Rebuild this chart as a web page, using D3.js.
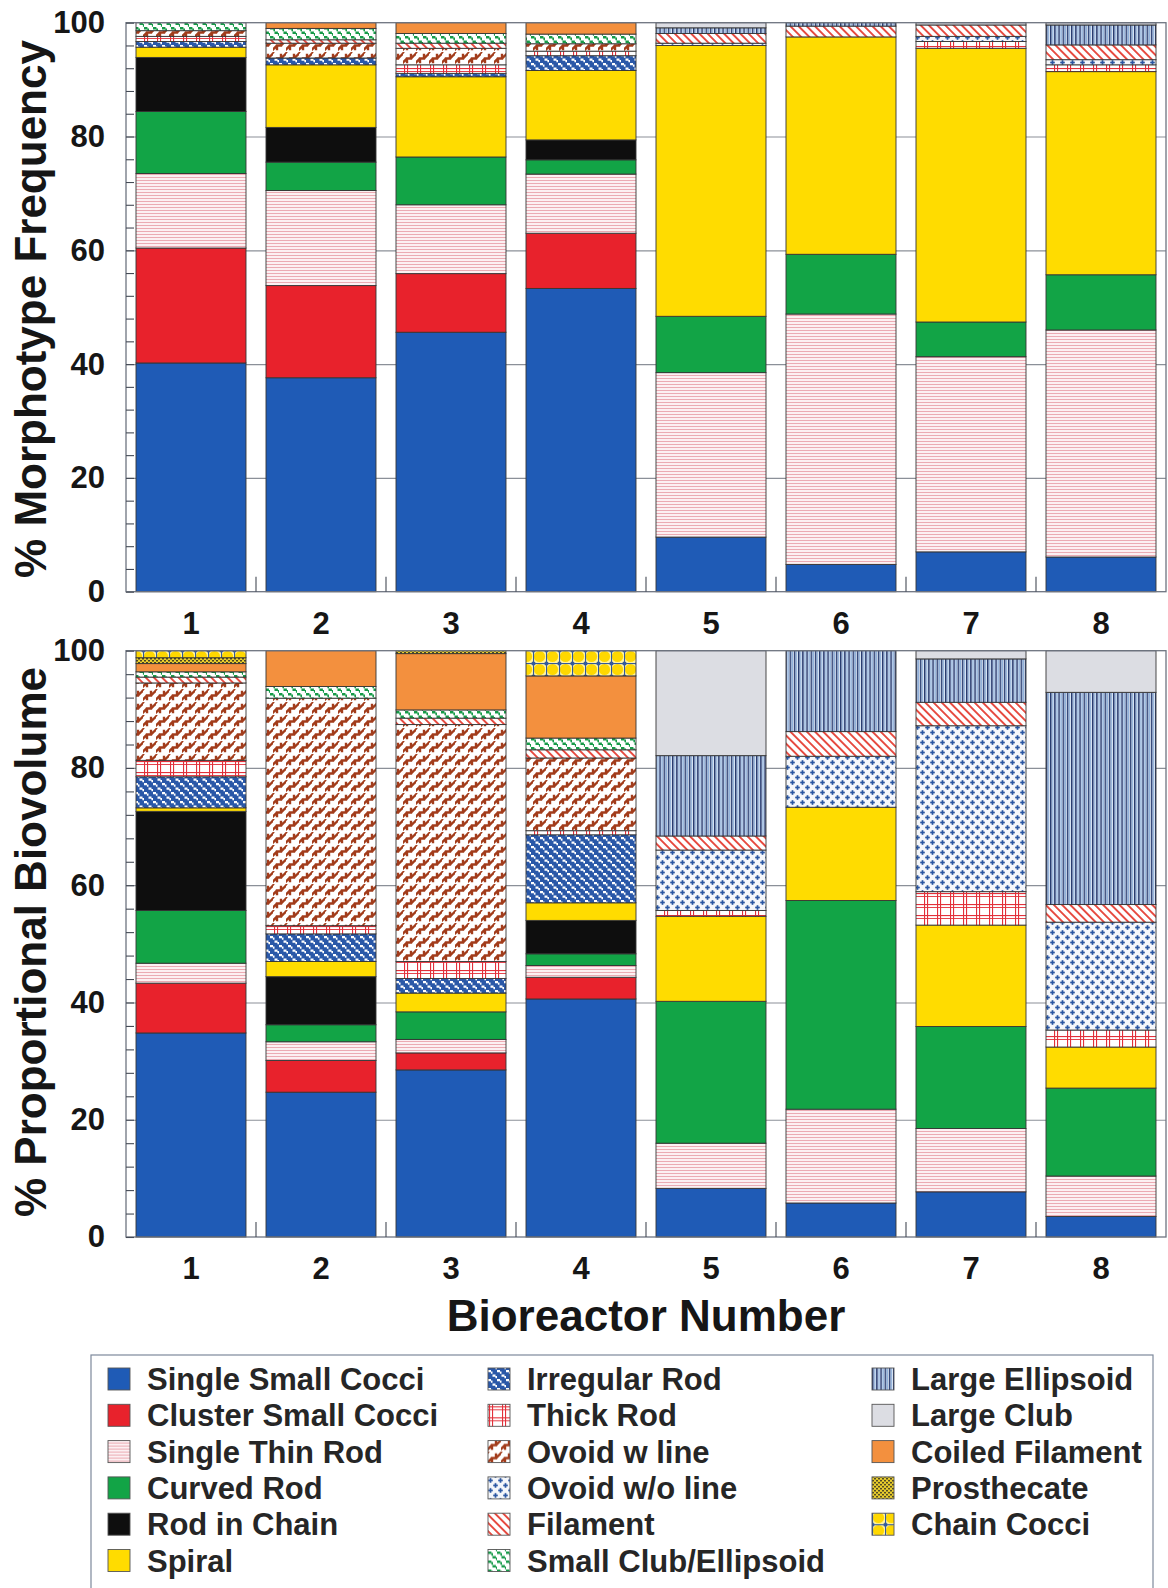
<!DOCTYPE html>
<html>
<head>
<meta charset="utf-8">
<script src="https://cdn.jsdelivr.net/npm/d3@7"></script>
<style>
  html, body { margin: 0; padding: 0; background: #ffffff; }
  svg { display: block; font-family: "Liberation Sans", Arial, Helvetica, sans-serif; font-weight: bold; }
</style>
</head>
<body>
<svg id="chart" width="1168" height="1588"></svg>
<script>
// ---------- categories ----------
const reactors = ["1", "2", "3", "4", "5", "6", "7", "8"];
const morphotypes = [
  "Single Small Cocci", "Cluster Small Cocci", "Single Thin Rod", "Curved Rod",
  "Rod in Chain", "Spiral", "Irregular Rod", "Thick Rod", "Ovoid w line",
  "Ovoid w/o line", "Filament", "Small Club/Ellipsoid", "Large Ellipsoid",
  "Large Club", "Coiled Filament", "Prosthecate", "Chain Cocci"
];
const yTickLabels = [0, 20, 40, 60, 80, 100];

// ---------- % morphotype frequency, bioreactors 1-8 ----------
const freqSingleSmallCocci   = [40.2, 37.6, 45.6, 53.3, 9.6, 4.8, 7.0, 6.1];
const freqClusterSmallCocci  = [20.2, 16.2, 10.3, 9.7, 0, 0, 0, 0];
const freqSingleThinRod      = [13.1, 16.7, 12.1, 10.4, 28.9, 44.0, 34.3, 39.9];
const freqCurvedRod          = [10.9, 5.0, 8.4, 2.5, 9.9, 10.5, 6.1, 9.7];
const freqRodInChain         = [9.5, 6.1, 0, 3.5, 0, 0, 0, 0];
const freqSpiral             = [1.8, 11.0, 14.1, 12.2, 47.6, 38.2, 48.1, 35.7];
const freqIrregularRod       = [1.0, 1.2, 0.6, 2.6, 0, 0, 0, 0];
const freqThickRod           = [0.9, 0, 1.5, 0.8, 0, 0, 1.2, 1.2];
const freqOvoidWLine         = [1.0, 2.6, 2.9, 1.3, 0, 0, 0, 0];
const freqOvoidWoLine        = [0, 0, 0, 0, 0.4, 0, 0.9, 0.9];
const freqFilament           = [0, 0.6, 0.9, 0, 1.7, 1.9, 2.0, 2.6];
const freqSmallClub          = [1.4, 2.0, 1.7, 1.7, 0, 0, 0, 0];
const freqLargeEllipsoid     = [0, 0, 0, 0, 1.0, 0.6, 0, 3.5];
const freqLargeClub          = [0, 0, 0, 0, 0.9, 0, 0.4, 0.4];
const freqCoiledFilament     = [0, 1.0, 1.9, 2.0, 0, 0, 0, 0];
const freqProsthecate        = [0, 0, 0, 0, 0, 0, 0, 0];
const freqChainCocci         = [0, 0, 0, 0, 0, 0, 0, 0];

// ---------- % proportional biovolume, bioreactors 1-8 ----------
const bvSingleSmallCocci   = [34.8, 24.7, 28.5, 40.6, 8.3, 5.8, 7.7, 3.5];
const bvClusterSmallCocci  = [8.5, 5.4, 2.9, 3.7, 0, 0, 0, 0];
const bvSingleThinRod      = [3.4, 3.2, 2.3, 2.0, 7.7, 16.0, 10.8, 6.9];
const bvCurvedRod          = [9.0, 2.9, 4.7, 2.0, 24.2, 35.6, 17.4, 15.0];
const bvRodInChain         = [16.9, 8.2, 0, 5.7, 0, 0, 0, 0];
const bvSpiral             = [0.6, 2.6, 3.2, 3.0, 14.5, 15.9, 17.3, 7.0];
const bvIrregularRod       = [5.3, 4.7, 2.5, 11.6, 0, 0, 0, 0];
const bvThickRod           = [2.8, 1.4, 2.9, 0.7, 1.0, 0, 5.7, 2.9];
const bvOvoidWLine         = [13.2, 38.8, 40.4, 12.4, 0, 0, 0, 0];
const bvOvoidWoLine        = [0, 0, 0, 0, 10.3, 8.7, 28.3, 18.4];
const bvFilament           = [1.0, 0, 1.1, 1.4, 2.4, 4.2, 4.0, 3.0];
const bvSmallClub          = [0.9, 2.0, 1.4, 2.0, 0, 0, 0, 0];
const bvLargeEllipsoid     = [0, 0, 0, 0, 13.7, 13.8, 7.4, 36.2];
const bvLargeClub          = [0, 0, 0, 0, 17.9, 0, 1.4, 7.1];
const bvCoiledFilament     = [1.4, 6.1, 9.6, 10.6, 0, 0, 0, 0];
const bvProsthecate        = [1.0, 0, 0.5, 0, 0, 0, 0, 0];
const bvChainCocci         = [1.2, 0, 0, 4.3, 0, 0, 0, 0];

const freqSeries = [freqSingleSmallCocci, freqClusterSmallCocci, freqSingleThinRod, freqCurvedRod,
  freqRodInChain, freqSpiral, freqIrregularRod, freqThickRod, freqOvoidWLine, freqOvoidWoLine,
  freqFilament, freqSmallClub, freqLargeEllipsoid, freqLargeClub, freqCoiledFilament,
  freqProsthecate, freqChainCocci];
const bvSeries = [bvSingleSmallCocci, bvClusterSmallCocci, bvSingleThinRod, bvCurvedRod,
  bvRodInChain, bvSpiral, bvIrregularRod, bvThickRod, bvOvoidWLine, bvOvoidWoLine,
  bvFilament, bvSmallClub, bvLargeEllipsoid, bvLargeClub, bvCoiledFilament,
  bvProsthecate, bvChainCocci];

// ---------- drawing ----------
const svg = d3.select("#chart");
const defs = svg.append("defs");

function makePattern(id, w, h, bg, draw, transform) {
  const p = defs.append("pattern")
    .attr("id", id).attr("patternUnits", "userSpaceOnUse")
    .attr("width", w).attr("height", h);
  if (transform) p.attr("patternTransform", transform);
  p.append("rect").attr("width", w).attr("height", h).attr("fill", bg);
  draw(p);
}

// fine pink horizontal hatching
makePattern("pThinRod", 6, 3, "#fcf0f2", p => {
  p.append("rect").attr("y", 0).attr("width", 6).attr("height", 0.9).attr("fill", "#e9a3ac");
});
// blue tooth pattern
makePattern("pIrregular", 9, 9, "#2a58a8", p => {
  p.append("path").attr("fill", "#ffffff")
    .attr("d", "M0 0h3v1.6h1.5v2.2h-1.6v-1.5h-2.9z M4.5 4.5h3v1.6h1.5v2.2h-1.6v-1.5h-2.9z");
});
// red plaid
makePattern("pThickRod", 13, 11, "#ffffff", p => {
  p.append("rect").attr("x", 1).attr("width", 1.1).attr("height", 11).attr("fill", "#e2303a");
  p.append("rect").attr("x", 4).attr("width", 1.1).attr("height", 11).attr("fill", "#e2303a");
  p.append("rect").attr("y", 2).attr("width", 13).attr("height", 1.1).attr("fill", "#e2303a");
  p.append("rect").attr("y", 5).attr("width", 13).attr("height", 0.9).attr("fill", "#e2303a");
});
// brown zigzag
makePattern("pOvoidLine", 13, 13, "#ffffff", p => {
  p.append("path").attr("fill", "none").attr("stroke", "#a23c1b").attr("stroke-width", 2.4)
    .attr("stroke-linecap", "square")
    .attr("d", "M0 10.5 L4 6.5 L8 6.5 L12 2.5 M4 6.5 L4 10 M8 6.5 L8 3 M12 2.5 L14 0.5 M-1 1.5 L0 0.5");
});
// blue plus signs
makePattern("pOvoidNoLine", 10, 10, "#f5f7fb", p => {
  [[2.5, 2.5], [7.5, 7.5]].forEach(([cx, cy]) => {
    p.append("rect").attr("x", cx - 2.3).attr("y", cy - 0.85).attr("width", 4.6).attr("height", 1.7).attr("fill", "#2a56a2");
    p.append("rect").attr("x", cx - 0.85).attr("y", cy - 2.3).attr("width", 1.7).attr("height", 4.6).attr("fill", "#2a56a2");
  });
});
// red diagonal hatching
makePattern("pFilament", 5.8, 5.8, "#ffffff", p => {
  p.append("rect").attr("x", 0).attr("width", 1.9).attr("height", 5.8).attr("fill", "#e6473d");
}, "rotate(-45)");
// green tooth pattern
makePattern("pSmallClub", 9, 9, "#ffffff", p => {
  p.append("path").attr("fill", "#169a48")
    .attr("d", "M0 0h3.4v1.6h1.6v2.6h-1.6v-1.6h-3.4z M4.5 4.5h3.4v1.6h1.6v2.6h-1.6v-1.6h-3.4z");
});
// navy / light blue vertical stripes
makePattern("pLargeEllipsoid", 4.2, 4, "#eef3fa", p => {
  p.append("rect").attr("x", 0).attr("width", 1.4).attr("height", 4).attr("fill", "#22366c");
  p.append("rect").attr("x", 2.0).attr("width", 1.5).attr("height", 4).attr("fill", "#8fb0da");
});
// olive dots on yellow
makePattern("pProsthecate", 4, 4, "#ecd02c", p => {
  p.append("rect").attr("x", 0).attr("y", 0).attr("width", 2).attr("height", 1.5).attr("fill", "#4a4426");
  p.append("rect").attr("x", 2).attr("y", 2).attr("width", 2).attr("height", 1.5).attr("fill", "#4a4426");
});
// yellow cocci linked by blue joints
makePattern("pChainCocci", 13, 13, "#ffffff", p => {
  p.append("rect").attr("width", 13).attr("height", 13).attr("fill", "#fff3a0");
  p.append("circle").attr("cx", 6.5).attr("cy", 6.5).attr("r", 5.6).attr("fill", "#ffd800");
  p.append("rect").attr("x", 0).attr("y", 0).attr("width", 13).attr("height", 1.1).attr("fill", "#32599e");
  p.append("rect").attr("x", 0).attr("y", 0).attr("width", 1.1).attr("height", 13).attr("fill", "#32599e");
  [[0, 0], [13, 0], [0, 13], [13, 13]].forEach(([cx, cy]) =>
    p.append("circle").attr("cx", cx + 0.5).attr("cy", cy + 0.5).attr("r", 2.1).attr("fill", "#32599e"));
});

const fills = [
  "#1f5bb6", "#e8222c", "url(#pThinRod)", "#12a446",
  "#0e0e0e", "#ffdc00", "url(#pIrregular)", "url(#pThickRod)", "url(#pOvoidLine)",
  "url(#pOvoidNoLine)", "url(#pFilament)", "url(#pSmallClub)", "url(#pLargeEllipsoid)",
  "#dcdde3", "#f3903e", "url(#pProsthecate)", "url(#pChainCocci)"
];
const fillOf = d3.scaleOrdinal().domain(morphotypes).range(fills);

const plotLeft = 126, plotRight = 1166;
const x = d3.scaleBand().domain(reactors).range([plotLeft, plotRight])
  .paddingInner(20 / 130).paddingOuter(10 / 130);

function drawPanel(series, top, bottom, title, titleCenterY) {
  const y = d3.scaleLinear().domain([0, 100]).range([bottom, top]);
  const g = svg.append("g");

  // grid lines behind the bars
  g.append("g").attr("transform", `translate(${plotLeft},0)`)
    .call(d3.axisLeft(y).tickValues([20, 40, 60, 80]).tickSize(-(plotRight - plotLeft)).tickFormat(""))
    .call(a => a.select(".domain").remove())
    .call(a => a.selectAll("line").attr("stroke", "#8b9098").attr("stroke-width", 1.2));

  // stacked bars
  const rows = reactors.map((r, i) => {
    const o = { reactor: r };
    morphotypes.forEach((m, k) => { o[m] = series[k][i]; });
    return o;
  });
  const stacked = d3.stack().keys(morphotypes)(rows);
  g.selectAll("g.layer").data(stacked).join("g").attr("class", "layer")
    .attr("fill", d => fillOf(d.key))
    .selectAll("rect").data(d => d.filter(s => s[1] - s[0] > 0))
    .join("rect")
    .attr("x", d => x(d.data.reactor))
    .attr("width", x.bandwidth())
    .attr("y", d => y(d[1]))
    .attr("height", d => y(d[0]) - y(d[1]))
    .attr("stroke", "#353535").attr("stroke-width", 0.9);

  // frame
  g.append("rect").attr("x", plotLeft).attr("y", top)
    .attr("width", plotRight - plotLeft).attr("height", bottom - top)
    .attr("fill", "none").attr("stroke", "#6e7480").attr("stroke-width", 1.3);

  // minor ticks inside the left edge
  g.append("g").attr("transform", `translate(${plotLeft},0)`)
    .call(d3.axisLeft(y).tickValues(d3.range(0, 101, 4)).tickSize(-8).tickSizeOuter(0).tickFormat(""))
    .call(a => a.select(".domain").remove())
    .call(a => a.selectAll("line").attr("stroke", "#444a55").attr("stroke-width", 1.1));

  // value labels
  g.append("g").attr("transform", `translate(${plotLeft},0)`)
    .call(d3.axisLeft(y).tickValues(yTickLabels).tickSize(0).tickPadding(21))
    .call(a => a.select(".domain").remove())
    .call(a => a.selectAll("text").attr("font-size", 31).attr("font-weight", "bold")
      .attr("font-family", "Liberation Sans, Arial, sans-serif").attr("fill", "#161616"));

  // category boundary ticks rising from the bottom edge
  const step = x.step();
  g.selectAll("line.sep").data(reactors.slice(1)).join("line").attr("class", "sep")
    .attr("x1", d => x(d) - step * x.paddingInner() / 2)
    .attr("x2", d => x(d) - step * x.paddingInner() / 2)
    .attr("y1", bottom).attr("y2", bottom - 15)
    .attr("stroke", "#444a55").attr("stroke-width", 1.1);

  // category labels
  g.append("g").attr("transform", `translate(0,${bottom})`)
    .call(d3.axisBottom(x).tickSize(0).tickPadding(20))
    .call(a => a.select(".domain").remove())
    .call(a => a.selectAll("text").attr("font-size", 31).attr("font-weight", "bold")
      .attr("font-family", "Liberation Sans, Arial, sans-serif").attr("fill", "#161616"));

  // vertical title
  g.append("text")
    .attr("transform", `translate(46,${titleCenterY}) rotate(-90)`)
    .attr("text-anchor", "middle").attr("font-size", 44).attr("fill", "#161616")
    .text(title);
}

drawPanel(freqSeries, 22.7, 591.7, "% Morphotype Frequency", 309);
drawPanel(bvSeries, 650.7, 1237, "% Proportional Biovolume", 942);

svg.append("text").attr("x", (plotLeft + plotRight) / 2).attr("y", 1331)
  .attr("text-anchor", "middle").attr("font-size", 44).attr("fill", "#161616")
  .text("Bioreactor Number");

// ---------- legend ----------
const legend = svg.append("g");
legend.append("rect").attr("x", 91).attr("y", 1355).attr("width", 1062).attr("height", 260)
  .attr("fill", "#ffffff").attr("stroke", "#7d899c").attr("stroke-width", 1.2);
const colX = [108, 488, 872];
const rowY0 = 1379, rowStep = 36.3, perCol = 6, sw = 22;
const items = legend.selectAll("g.item").data(morphotypes).join("g").attr("class", "item")
  .attr("transform", (d, i) => `translate(${colX[Math.floor(i / perCol)]},${rowY0 + (i % perCol) * rowStep})`);
items.append("rect").attr("x", 0).attr("y", -sw / 2).attr("width", sw).attr("height", sw)
  .attr("fill", d => fillOf(d)).attr("stroke", "#555").attr("stroke-width", 0.9);
items.append("text").attr("x", 39).attr("y", 11).attr("font-size", 31).attr("fill", "#262626")
  .text(d => d);
</script>
</body>
</html>
